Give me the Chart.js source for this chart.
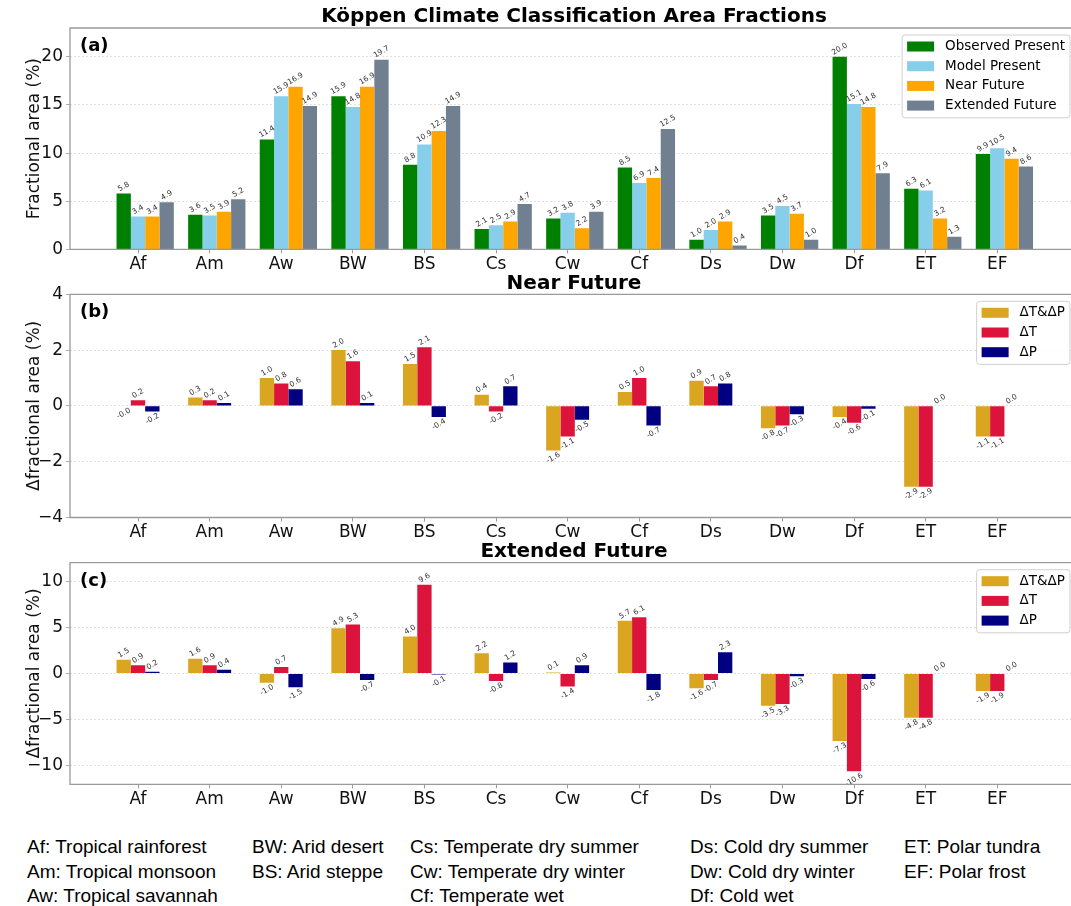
<!DOCTYPE html>
<html>
<head>
<meta charset="utf-8">
<script src="https://cdn.jsdelivr.net/npm/chart.js@4.4.0/dist/chart.umd.min.js"></script>
<style>
  body { margin: 0; background: #fff; width: 1071px; height: 906px; overflow: hidden; position: relative; }
  .panel { position: absolute; left: 0; }
  #key { position: absolute; top: 835px; left: 0; font-family: "Liberation Sans", Arial, sans-serif; font-size: 19px; color: #000; }
  #key div { position: absolute; top: 0; white-space: nowrap; line-height: 24.5px; }
</style>
</head>
<body>
<canvas id="chartA" class="panel" width="1071" height="290" style="top:0px"></canvas>
<canvas id="chartB" class="panel" width="1071" height="290" style="top:270px"></canvas>
<canvas id="chartC" class="panel" width="1071" height="290" style="top:535px"></canvas>
<div id="key"></div>
<script>
// climate classes on the x axis
const categories = ["Af", "Am", "Aw", "BW", "BS", "Cs", "Cw", "Cf", "Ds", "Dw", "Df", "ET", "EF"];

// (a) area fractions in %
const observedPresent = [5.8, 3.6, 11.4, 15.9, 8.8, 2.1, 3.2, 8.5, 1.0, 3.5, 20.0, 6.3, 9.9];
const modelPresent    = [3.4, 3.5, 15.9, 14.8, 10.9, 2.5, 3.8, 6.9, 2.0, 4.5, 15.1, 6.1, 10.5];
const nearFuture      = [3.4, 3.9, 16.9, 16.9, 12.3, 2.9, 2.2, 7.4, 2.9, 3.7, 14.8, 3.2, 9.4];
const extendedFuture  = [4.9, 5.2, 14.9, 19.7, 14.9, 4.7, 3.9, 12.5, 0.4, 1.0, 7.9, 1.3, 8.6];

// (b) near future changes
const nearTP = [-0.01, 0.3, 1.0, 2.0, 1.5, 0.4, -1.6, 0.5, 0.9, -0.8, -0.4, -2.9, -1.1];
const nearT  = [0.2, 0.2, 0.8, 1.6, 2.1, -0.2, -1.1, 1.0, 0.7, -0.7, -0.6, -2.9, -1.1];
const nearP  = [-0.2, 0.1, 0.6, 0.1, -0.4, 0.7, -0.5, -0.7, 0.8, -0.3, -0.1, 0.0, 0.0];

// (c) extended future changes
const extTP = [1.5, 1.6, -1.0, 4.9, 4.0, 2.2, 0.1, 5.7, -1.6, -3.5, -7.3, -4.8, -1.9];
const extT  = [0.9, 0.9, 0.7, 5.3, 9.6, -0.8, -1.4, 6.1, -0.7, -3.3, -10.6, -4.8, -1.9];
const extP  = [0.2, 0.4, -1.5, -0.7, -0.1, 1.2, 0.9, -1.8, 2.3, -0.3, -0.6, 0.0, 0.0];

// y tick labels
const ticksA = [0, 5, 10, 15, 20];
const ticksB = [-4, -2, 0, 2, 4];
const ticksC = [-10, -5, 0, 5, 10];

// key under the chart
const keyColumns = [
  ["Af: Tropical rainforest", "Am: Tropical monsoon", "Aw: Tropical savannah"],
  ["BW: Arid desert", "BS: Arid steppe"],
  ["Cs: Temperate dry summer", "Cw: Temperate dry winter", "Cf: Temperate wet"],
  ["Ds: Cold dry summer", "Dw: Cold dry winter", "Df: Cold wet"],
  ["ET: Polar tundra", "EF: Polar frost"]
];
const keyLeft = [27, 252, 410, 690, 904];

const FONT = '"DejaVu Sans", sans-serif';

// draws frame, titles, panel letter, value labels and legend box
const decor = {
  id: "decor",
  afterDatasetsDraw(chart, args, opts) {
    const ctx = chart.ctx;
    const ang = 30 * Math.PI / 180;
    ctx.save();
    ctx.font = "7.5px " + FONT;
    ctx.fillStyle = "#333";
    ctx.textAlign = "center";
    ctx.textBaseline = "middle";
    chart.data.datasets.forEach((ds, di) => {
      const meta = chart.getDatasetMeta(di);
      meta.data.forEach((bar, i) => {
        const v = ds.data[i].y;
        const txt = v.toFixed(1);
        const w = ctx.measureText(txt).width;
        const h = 8.5;
        const bh = w * Math.sin(ang) + h * Math.cos(ang);
        const y = v >= 0 ? bar.y - bh / 2 : bar.y + bh / 2;
        ctx.save();
        ctx.translate(bar.x, y);
        ctx.rotate(-ang);
        ctx.fillText(txt, 0, 0);
        ctx.restore();
      });
    });
    ctx.restore();
  },
  afterDraw(chart, args, opts) {
    const ctx = chart.ctx;
    const area = chart.chartArea;
    ctx.save();
    // frame (right side sits outside the picture)
    ctx.strokeStyle = "#9a9a9a";
    ctx.lineWidth = 1.3;
    ctx.beginPath();
    ctx.moveTo(area.right + 2, area.top);
    ctx.lineTo(area.left, area.top);
    ctx.lineTo(area.left, area.bottom);
    ctx.lineTo(area.right + 2, area.bottom);
    ctx.stroke();

    // title
    ctx.fillStyle = "#000";
    ctx.font = "bold " + opts.titleSize + "px " + FONT;
    ctx.textAlign = "center";
    ctx.textBaseline = "middle";
    ctx.fillText(opts.title, opts.titleX, area.top - 11);

    // panel letter
    ctx.font = "bold 18px " + FONT;
    ctx.textAlign = "left";
    ctx.fillText(opts.letter, 80, area.top + 18.5);

    // legend
    const items = chart.data.datasets;
    ctx.font = "13.5px " + FONT;
    const maxW = Math.max(...items.map(d => ctx.measureText(d.label).width));
    const right = 1070;
    const left = right - maxW - 48;
    const top = area.top + 7;
    const h = items.length * 19.7 + 4;
    ctx.beginPath();
    ctx.roundRect(left, top, right - left, h, 3);
    ctx.fillStyle = "rgba(255,255,255,0.85)";
    ctx.fill();
    ctx.strokeStyle = "#d0d0d0";
    ctx.lineWidth = 1;
    ctx.stroke();
    items.forEach((d, i) => {
      const cy = area.top + 18.5 + i * 19.7;
      ctx.fillStyle = d.backgroundColor;
      ctx.fillRect(left + 5, cy - 5, 27, 10);
      ctx.fillStyle = "#000";
      ctx.textBaseline = "middle";
      ctx.fillText(d.label, left + 43, cy);
    });
    ctx.restore();
  }
};

function minusSign(v) {
  return v < 0 ? "\u2212" + Math.abs(v) : String(v);
}

function makePanel(id, cfg) {
  return new Chart(document.getElementById(id), {
    type: "bar",
    data: {
      datasets: cfg.series.map(s => ({
        label: s.label,
        data: s.values.map((v, i) => ({ x: i + cfg.shift, y: v })),
        backgroundColor: s.color,
        borderWidth: 0,
        categoryPercentage: cfg.groupWidth,
        barPercentage: 1
      }))
    },
    plugins: [decor],
    options: {
      responsive: false,
      animation: false,
      devicePixelRatio: 1,
      layout: { padding: { top: cfg.top, bottom: 290 - cfg.bottom - 30, left: 0, right: 0 } },
      plugins: {
        legend: { display: false },
        tooltip: { enabled: false },
        decor: { title: cfg.title, titleX: cfg.titleX, titleSize: cfg.titleSize, letter: cfg.letter }
      },
      scales: {
        x: {
          type: "linear",
          offset: false,
          min: -0.95,
          max: 13.03,
          afterBuildTicks: axis => { axis.ticks = categories.map((c, i) => ({ value: i })); },
          afterFit: s => { s.height = 30; },
          ticks: {
            autoSkip: false,
            maxRotation: 0,
            padding: 1,
            color: "#111",
            font: { family: FONT, size: 17 },
            callback: v => categories[v]
          },
          grid: { offset: false, drawOnChartArea: false, drawTicks: true, tickLength: 4, tickColor: "#9a9a9a", tickWidth: 1 },
          border: { display: false }
        },
        y: {
          min: cfg.yMin,
          max: cfg.yMax,
          afterBuildTicks: axis => { axis.ticks = cfg.yTicks.map(v => ({ value: v })); },
          afterFit: s => { s.width = 70; },
          ticks: {
            padding: 3,
            color: "#111",
            font: { family: FONT, size: 17 },
            callback: v => minusSign(v)
          },
          grid: { color: "#d8d8d8", lineWidth: 0.8, drawTicks: true, tickLength: 4, tickColor: "#9a9a9a", tickBorderDash: [] },
          border: { display: false, dash: [2, 2] },
          title: {
            display: true,
            text: cfg.yTitle,
            color: "#111",
            font: { family: FONT, size: 17 },
            padding: { top: 24, bottom: 0 }
          }
        }
      }
    }
  });
}

makePanel("chartA", {
  title: "Köppen Climate Classification Area Fractions",
  titleX: 574, titleSize: 20,
  letter: "(a)",
  yTitle: "Fractional area (%)",
  top: 28, bottom: 249.3,
  yMin: 0, yMax: 23, yTicks: ticksA,
  shift: 0.1, groupWidth: 0.8,
  series: [
    { label: "Observed Present", values: observedPresent, color: "#008000" },
    { label: "Model Present", values: modelPresent, color: "#87CEEB" },
    { label: "Near Future", values: nearFuture, color: "#FFA500" },
    { label: "Extended Future", values: extendedFuture, color: "#708090" }
  ]
});

makePanel("chartB", {
  title: "Near Future",
  titleX: 574, titleSize: 20,
  letter: "(b)",
  yTitle: "\u0394fractional area (%)",
  top: 24.3, bottom: 247.5,
  yMin: -4, yMax: 4, yTicks: ticksB,
  shift: 0, groupWidth: 0.6,
  series: [
    { label: "\u0394T&\u0394P", values: nearTP, color: "#DAA520" },
    { label: "\u0394T", values: nearT, color: "#DC143C" },
    { label: "\u0394P", values: nearP, color: "#000080" }
  ]
});

makePanel("chartC", {
  title: "Extended Future",
  titleX: 574, titleSize: 20,
  letter: "(c)",
  yTitle: "\u0394fractional area (%)",
  top: 27.7, bottom: 249.3,
  yMin: -12, yMax: 12, yTicks: ticksC,
  shift: 0, groupWidth: 0.6,
  series: [
    { label: "\u0394T&\u0394P", values: extTP, color: "#DAA520" },
    { label: "\u0394T", values: extT, color: "#DC143C" },
    { label: "\u0394P", values: extP, color: "#000080" }
  ]
});

// key text
const key = document.getElementById("key");
keyColumns.forEach((col, i) => {
  const div = document.createElement("div");
  div.style.left = keyLeft[i] + "px";
  div.innerHTML = col.join("<br>");
  key.appendChild(div);
});
</script>
</body>
</html>
